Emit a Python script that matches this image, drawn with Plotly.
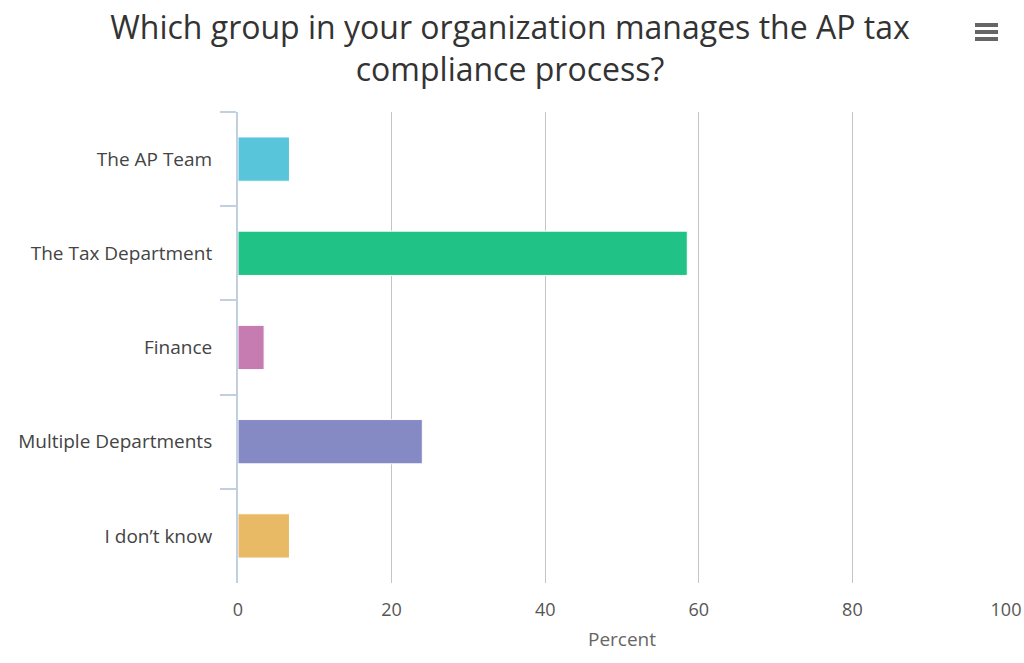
import plotly.graph_objects as go

categories = ["The AP Team", "The Tax Department", "Finance", "Multiple Departments", "I don’t know"]
values = [6.7, 58.5, 3.4, 24.0, 6.7]
colors = ["#58C5DA", "#20C285", "#C67BB1", "#8589C4", "#E9BA66"]
x_ticks = [0, 20, 40, 60, 80, 100]

FONT = "Open Sans, DejaVu Sans, sans-serif"

W, H = 1024, 663
ML, MR, MT, MB = 238, 18, 112, 80
PW, PH = W - ML - MR, H - MT - MB

fig = go.Figure(go.Bar(
    x=values, y=categories, orientation="h",
    marker=dict(color=colors, line=dict(color="white", width=1)),
    width=0.47, hoverinfo="x+y",
))

fig.update_layout(
    width=W, height=H,
    paper_bgcolor="white", plot_bgcolor="white",
    margin=dict(l=ML, r=MR, t=MT, b=MB, autoexpand=False),
    showlegend=False,
    title=dict(
        text="Which group in your organization manages the AP tax<br>compliance process?",
        x=510 / W, xanchor="center", y=1 - 39 / H, yanchor="top",
        font=dict(family=FONT, size=32, color="#333333"),
    ),
    xaxis=dict(
        range=[0, 100], tickvals=x_ticks, showgrid=True, gridcolor="#C4C4C4", gridwidth=1,
        zeroline=False, showline=False, ticks="", automargin=False,
        tickfont=dict(family=FONT, size=18, color="#555555"),
        ticklabelstandoff=14,
        title=dict(text="Percent", font=dict(family=FONT, size=19, color="#666666"), standoff=12),
        fixedrange=True,
    ),
    yaxis=dict(
        categoryorder="array", categoryarray=categories, autorange="reversed",
        showline=True, linecolor="#C0D0E0", linewidth=2, automargin=False,
        ticks="outside", ticklen=16, tickcolor="#C0D0E0", tickwidth=2, tickson="boundaries",
        tickfont=dict(family=FONT, size=19, color="#444444"),
        ticklabelstandoff=20,
        showgrid=False, fixedrange=True,
    ),
)

# hamburger menu icon (page pixel positions converted to paper coords)
for yy in [25, 32, 39]:
    fig.add_shape(type="line", xref="paper", yref="paper",
                  x0=(975 - ML) / PW, x1=(998 - ML) / PW,
                  y0=(H - MB - yy) / PH, y1=(H - MB - yy) / PH,
                  line=dict(color="#666666", width=4))

fig.write_html("out.html", config={"displayModeBar": False},
               post_script="document.body.style.margin='0';document.body.style.overflow='hidden';")
